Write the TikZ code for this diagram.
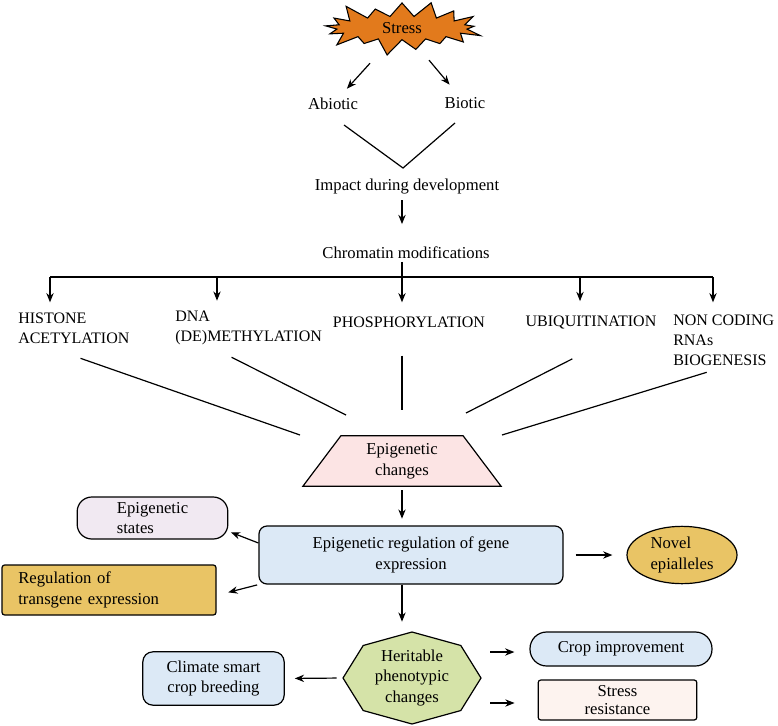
\documentclass[tikz,border=0pt]{standalone}
\usepackage{fontspec}
\setmainfont{Liberation Serif}
\usetikzlibrary{shapes.geometric,shapes.symbols,arrows.meta}

\definecolor{burst}{HTML}{E27A1C}
\definecolor{pinkfill}{HTML}{FCE4E4}
\definecolor{bluefill}{HTML}{DCE9F6}
\definecolor{lilac}{HTML}{F1E9F2}
\definecolor{gold}{HTML}{E9C465}
\definecolor{leaf}{HTML}{D5E3A8}
\definecolor{cream}{HTML}{FDF3EF}

\tikzset{
  txt/.style={font=\fontsize{12.5}{15.5}\selectfont, align=center, inner sep=2pt},
  caps/.style={font=\fontsize{12}{15}\selectfont, align=left, inner sep=0pt},
  box/.style={txt, draw, line width=0.9pt},
  arr/.style={-{Stealth[length=7pt,width=5.5pt]}, line width=0.9pt},
  lin/.style={line width=0.9pt},
}

\begin{document}
\begin{tikzpicture}[x=0.75pt,y=-0.75pt]
\useasboundingbox (0,0) rectangle (778,725);
\coordinate (stem) at (402,0); % eje de las flechas centrales

\node[starburst, starburst points=17, starburst point height=14pt, draw, fill=burst,
      line width=0.8pt, minimum width=126pt, minimum height=43pt, txt] (stress) at (402,28) {Stress};

\node[txt] (abiotic) at (333,104) {Abiotic};
\node[txt] (biotic) at (465,103) {Biotic};
\draw[arr, shorten <=35.7pt, shorten >=15.5pt] (stress.center) -- (abiotic.center);
\draw[arr, shorten <=31.5pt, shorten >=18pt] (stress.center) -- (biotic.center);

% la V
\coordinate (vl) at (344,125);
\coordinate (vtip) at (403,168);
\coordinate (vr) at (455,123);
\draw[lin] (vl) -- (vtip) -- (vr);

\node[txt] (impact) at (407,187) {Impact during development};
\node[txt] (chromatin) at (406,253) {Chromatin modifications};
\draw[arr, shorten <=2pt, shorten >=15pt] (impact.south -| stem) -- (chromatin.north -| stem);

% modificaciones
\node[caps, anchor=west] (histone) at (18,328) {HISTONE\\ACETYLATION};
\node[caps, anchor=west] (dna) at (175,328) {DNA\\(DE)METHYLATION};
\node[caps] (phos) at (409,322) {PHOSPHORYLATION};
\node[caps] (ubiq) at (591,322) {UBIQUITINATION};
\node[caps, anchor=west] (noncoding) at (673,340) {NON CODING\\RNAs\\BIOGENESIS};

\coordinate (t1) at (50,277);
\coordinate (t2) at (217,277);
\coordinate (t4) at (580,277);
\coordinate (t5) at (713,277);
\draw[lin] (t1) -- (t5);
\draw[arr, shorten >=10.5pt] (chromatin.south -| stem) -- (phos.north -| stem);
\foreach \t/\n/\s in {t1/histone/7.5, t2/dna/7.5, t4/ubiq/10.5, t5/noncoding/9}
  \draw[arr, shorten >=\s pt] (\t) -- (\t |- \n.north);

\node[trapezium, trapezium stretches=true, trapezium left angle=59.5, trapezium right angle=59.5,
      draw, line width=0.9pt, fill=pinkfill, minimum width=149pt, minimum height=38pt, txt] (epi) at (402,461) {Epigenetic\\changes};

\coordinate (e1) at (300,435);
\coordinate (e2) at (346,415);
\coordinate (e3) at (402,410);
\coordinate (e4) at (466,413);
\coordinate (e5) at (502,435);
\draw[lin] ([xshift=5pt,yshift=-11pt]histone.south) -- (e1);
\draw[lin] ([xshift=-12.75pt,yshift=-9pt]dna.south) -- (e2);
\draw[lin, shorten <=21pt] (phos.south -| stem) -- (e3);
\draw[lin] ([xshift=-14pt,yshift=-22.5pt]ubiq.south) -- (e4);
\draw[lin] ([xshift=-12.75pt,yshift=-5pt]noncoding.south) -- (e5);

\node[box, fill=bluefill, rounded corners=6pt, minimum width=228pt, minimum height=43.5pt] (reg) at (411,555) {Epigenetic regulation of gene\\expression};
\draw[arr, shorten <=2.5pt, shorten >=5pt] (epi.south -| stem) -- (reg.north -| stem);

\node[box, fill=lilac, rounded corners=11pt, minimum width=113pt, minimum height=31.5pt, align=left] (states) at (152.5,518) {Epigenetic\\states};
\node[box, fill=gold, rounded corners=2pt, minimum width=160.5pt, minimum height=37.5pt,
      text width=136pt, inner xsep=12pt, align=left] (transgene) at (109,590) {Regulation of\\transgene expression};
\node[box, ellipse, fill=gold, minimum width=82.5pt, minimum height=43pt, inner sep=0pt, align=left] (novel) at (682,555) {Novel\\epialleles};

\draw[arr, shorten >=2pt] ([yshift=9pt]reg.west) -- ([yshift=-10pt]states.east);
\draw[arr, shorten <=1pt, shorten >=9pt] (reg.south west) -- ([yshift=-4pt]transgene.east);
\draw[arr, shorten <=9pt, shorten >=10.5pt] (reg.east) -- (novel.west);

% octogono
\coordinate (hc) at (412,678);
\draw[lin, fill=leaf] (hc) +(0:69 and 46) \foreach \a in {45,90,...,315} { -- +(\a:69 and 46) } -- cycle;
\node[txt, minimum width=103.5pt, minimum height=69pt] (herit) at (hc) {Heritable\\phenotypic\\changes};
\draw[arr, shorten >=7.5pt] (reg.south -| stem) -- (herit.north -| stem);

\node[box, fill=bluefill, rounded corners=7.5pt, minimum width=106pt, minimum height=40pt] (climate) at (213.5,678.5) {Climate smart\\crop breeding};
\node[box, fill=bluefill, rounded corners=12.5pt, minimum width=136.5pt, minimum height=25.5pt] (crop) at (621,649) {Crop improvement};
\node[box, fill=cream, rounded corners=2pt, minimum width=119pt, minimum height=30pt, inner ysep=1pt,
      font=\fontsize{12.5}{13.5}\selectfont] (resist) at (617.5,700) {Stress\\resistance};

\coordinate (hu) at ([yshift=19.5pt]herit.east);
\coordinate (hd) at ([yshift=-18.75pt]herit.east);
\draw[arr, shorten <=4.5pt, shorten >=7.5pt] (herit.west) -- (climate.east);
\draw[arr, shorten <=6.75pt, shorten >=11.25pt] (hu) -- (hu -| crop.west);
\draw[arr, shorten <=6.75pt, shorten >=17.25pt] (hd) -- (hd -| resist.west);

\end{tikzpicture}
\end{document}
